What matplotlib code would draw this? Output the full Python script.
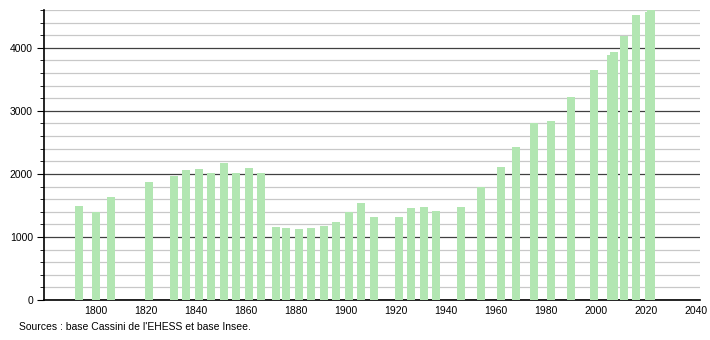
import matplotlib.pyplot as plt
import numpy as np
from matplotlib.ticker import MultipleLocator

# ---------------------------------------------------------
# Données
# ---------------------------------------------------------
annees = [1793, 1800, 1806, 1821, 1831, 1836, 1841, 1846, 1851, 1856,
          1861, 1866, 1872, 1876, 1881, 1886, 1891, 1896, 1901, 1906,
          1911, 1921, 1926, 1931, 1936, 1946, 1954, 1962, 1968, 1975,
          1982, 1990, 1999, 2006, 2007, 2011, 2016, 2021, 2022]
population = [1494, 1399, 1637, 1875, 1971, 2066, 2082, 2019, 2177, 2019,
              2098, 2019, 1160, 1144, 1123, 1144, 1176, 1240, 1399, 1542,
              1319, 1319, 1462, 1478, 1415, 1478, 1791, 2114, 2432, 2813,
              2845, 3226, 3656, 3890, 3930, 4191, 4519, 4570, 4600]

source = "Sources : base Cassini de l'EHESS et base Insee."

# ---------------------------------------------------------
# Graphique
# ---------------------------------------------------------
plt.rcParams['font.family'] = ['Liberation Sans', 'DejaVu Sans']

fig = plt.figure(figsize=(7.1, 3.4), dpi=100)
ax = fig.add_axes([0.062, 0.1176, 0.924, 0.853])

ax.bar(annees, population, width=3.2, color='#b2e6b2', zorder=3)

ax.set_xlim(1779.2, 2041.6)
ax.set_ylim(0, 4600)

ax.set_xticks(np.arange(1800, 2041, 20))
ax.yaxis.set_major_locator(MultipleLocator(1000))
ax.yaxis.set_minor_locator(MultipleLocator(200))

ax.grid(axis='y', which='minor', color='#c8c8c8', linewidth=0.9, zorder=1)
ax.grid(axis='y', which='major', color='#404040', linewidth=0.9, zorder=2)

for s in ['top', 'right']:
    ax.spines[s].set_visible(False)
ax.spines['left'].set_linewidth(1.2)
ax.spines['bottom'].set_linewidth(1.2)

ax.tick_params(axis='x', length=0, labelsize=7.5, pad=4)
ax.tick_params(axis='y', which='major', length=5, labelsize=7.5, pad=3)
ax.tick_params(axis='y', which='minor', length=3)

fig.text(0.027, 0.038, source, fontsize=7.5, ha='left', va='center')

plt.savefig("out.png", dpi=100)
